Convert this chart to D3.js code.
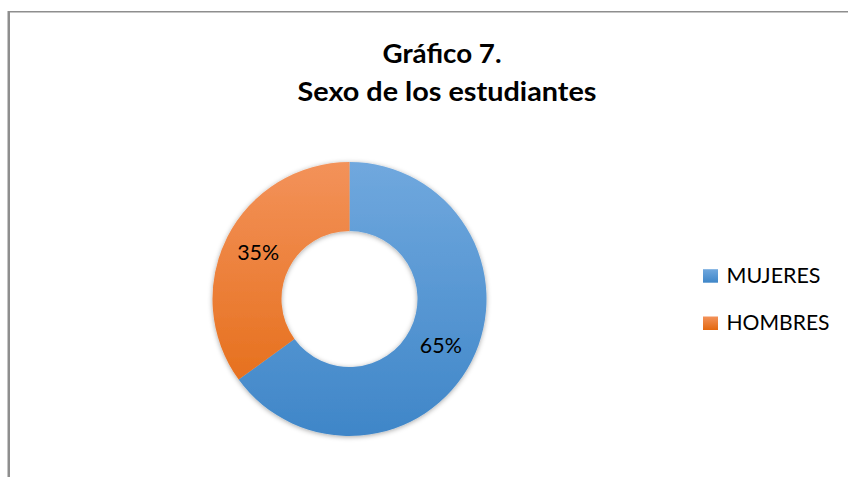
<!DOCTYPE html>
<html>
<head>
<meta charset="utf-8">
<script src="https://cdn.jsdelivr.net/npm/d3@7"></script>
<style>
    body { margin: 0; background: #fff; }
    svg { display: block; font-family: Lato, "Open Sans", sans-serif; }
</style>
</head>
<body>
<div id="chart"></div>
<script>
// data
const categories = ["MUJERES", "HOMBRES"];
const values = [65, 35];
const titleLines = ["Gráfico 7.", "Sexo de los estudiantes"];
const colorsTop = ["#70a8de", "#f3925a"];
const colorsBottom = ["#3f86c8", "#e3680f"];

const width = 848, height = 477;

const svg = d3.select("#chart").append("svg")
    .attr("width", width)
    .attr("height", height);

// chart frame (right and bottom edges fall outside the picture)
svg.append("line")
    .attr("x1", 8.75).attr("x2", 8.75)
    .attr("y1", 11).attr("y2", height)
    .attr("stroke", "#8e8e8e").attr("stroke-width", 2.5);
svg.append("line")
    .attr("x1", 8).attr("x2", width)
    .attr("y1", 11.75).attr("y2", 11.75)
    .attr("stroke", "#8e8e8e").attr("stroke-width", 1.5);

// helper: squeeze text to the width it has in the original
function fitText(sel, w) {
    sel.attr("textLength", w).attr("lengthAdjust", "spacingAndGlyphs");
}

// title
const titlePos = [{x: 442, y: 62.5, w: 119}, {x: 447, y: 101, w: 299}];
svg.append("g").selectAll("text")
    .data(titleLines)
    .join("text")
    .attr("x", (d, i) => titlePos[i].x)
    .attr("y", (d, i) => titlePos[i].y)
    .attr("text-anchor", "middle")
    .attr("font-weight", "bold")
    .attr("font-size", 26.5)
    .attr("fill", "#000")
    .text(d => d)
    .each(function(d, i) { fitText(d3.select(this), titlePos[i].w); });

// gradients and shadow
const defs = svg.append("defs");
const cx = 349.5, cy = 299, outerR = 137, innerR = 68;

categories.forEach((c, i) => {
    // slices: gradient over the whole ring (coords are local to the donut group)
    const g = defs.append("linearGradient")
        .attr("id", "grad" + i)
        .attr("gradientUnits", "userSpaceOnUse")
        .attr("x1", 0).attr("x2", 0)
        .attr("y1", -outerR).attr("y2", outerR);
    g.append("stop").attr("offset", "0%").attr("stop-color", colorsTop[i]);
    g.append("stop").attr("offset", "100%").attr("stop-color", colorsBottom[i]);

    // legend swatches: gradient over the box itself
    const lg = defs.append("linearGradient")
        .attr("id", "lgrad" + i)
        .attr("x1", 0).attr("x2", 0)
        .attr("y1", 0).attr("y2", 1);
    lg.append("stop").attr("offset", "0%").attr("stop-color", colorsTop[i]);
    lg.append("stop").attr("offset", "100%").attr("stop-color", colorsBottom[i]);
});

const shadow = defs.append("filter")
    .attr("id", "shadow")
    .attr("x", "-20%").attr("y", "-20%")
    .attr("width", "140%").attr("height", "140%");
shadow.append("feDropShadow")
    .attr("dx", 0).attr("dy", 1)
    .attr("stdDeviation", 2.5)
    .attr("flood-color", "#000")
    .attr("flood-opacity", 0.35);

// donut
const pie = d3.pie().sort(null).value(d => d);
const arc = d3.arc().innerRadius(innerR).outerRadius(outerR);
const arcs = pie(values);

const donut = svg.append("g")
    .attr("transform", `translate(${cx},${cy})`);

donut.append("g")
    .attr("filter", "url(#shadow)")
    .selectAll("path")
    .data(arcs)
    .join("path")
    .attr("d", arc)
    .attr("fill", (d, i) => `url(#grad${i})`);

// percentage labels
const total = d3.sum(values);
donut.append("g").selectAll("text")
    .data(arcs)
    .join("text")
    .attr("x", d => arc.centroid(d)[0])
    .attr("y", d => arc.centroid(d)[1] + 7.8)
    .attr("text-anchor", "middle")
    .attr("font-size", 21.5)
    .attr("fill", "#000")
    .text(d => Math.round(d.value / total * 100) + "%")
    .each(function() { fitText(d3.select(this), 42); });

// legend
const legendWidths = [94, 103];
const legend = svg.append("g")
    .attr("transform", "translate(703,0)")
    .selectAll("g")
    .data(categories)
    .join("g")
    .attr("transform", (d, i) => `translate(0,${282.7 + i * 47.3})`);

legend.append("rect")
    .attr("x", 0).attr("y", -13.5)
    .attr("width", 15).attr("height", 13.5)
    .attr("fill", (d, i) => `url(#lgrad${i})`);

legend.append("text")
    .attr("x", 23.5)
    .attr("y", 0)
    .attr("font-size", 21)
    .attr("fill", "#000")
    .text(d => d)
    .each(function(d, i) { fitText(d3.select(this), legendWidths[i]); });
</script>
</body>
</html>
